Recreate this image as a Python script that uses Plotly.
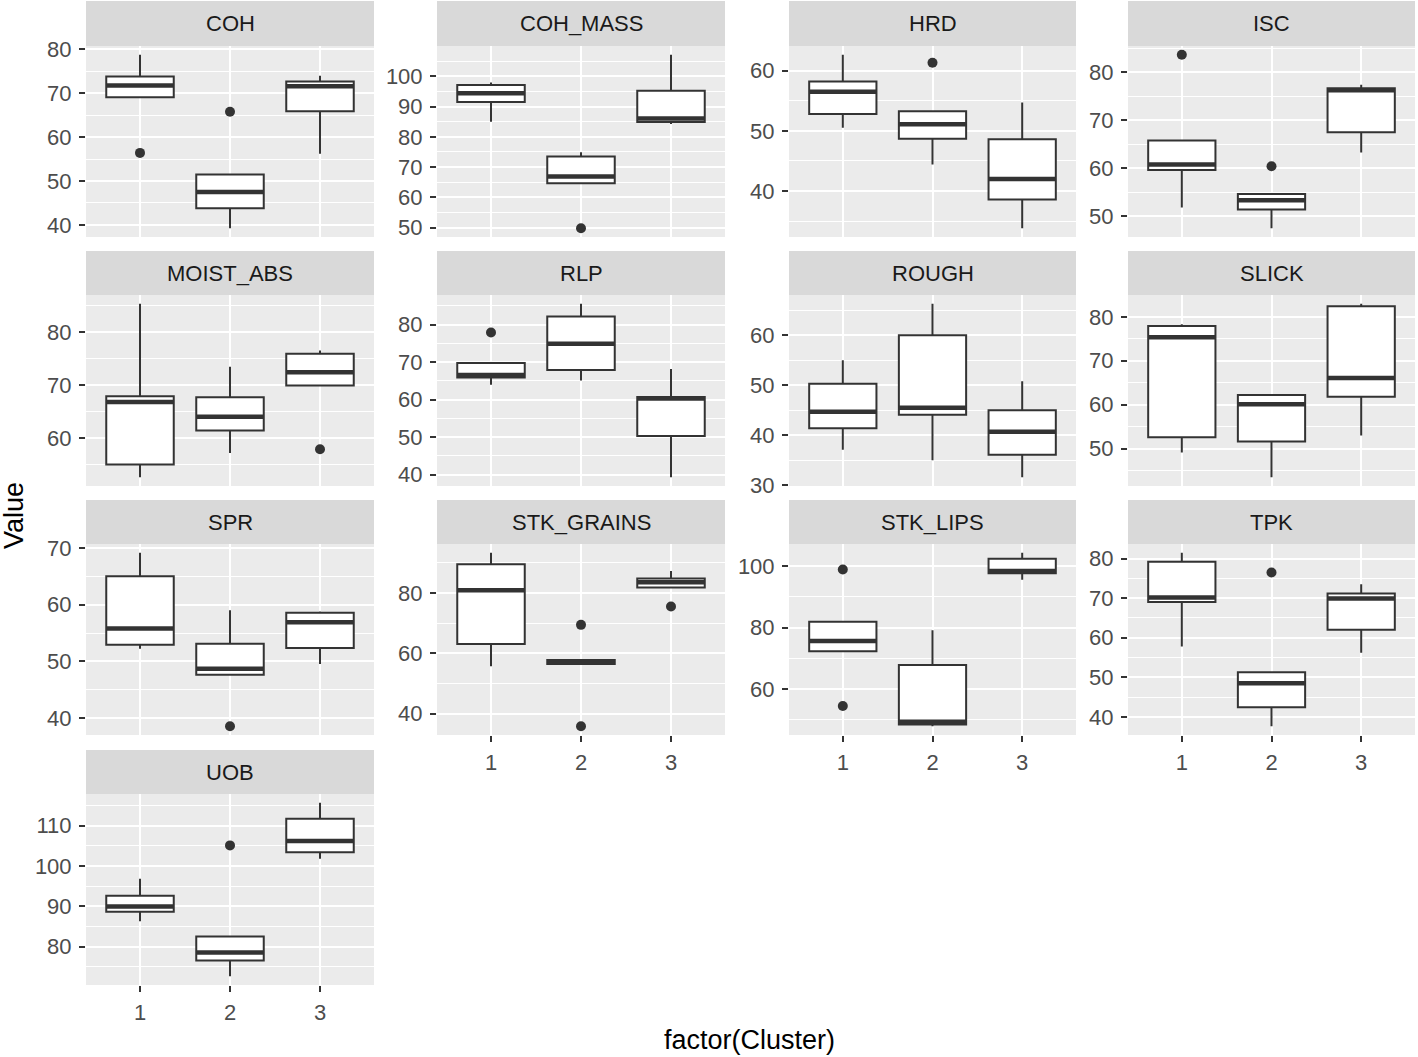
import plotly.graph_objects as go

# ---------------- data ----------------
variables = ["COH", "COH_MASS", "HRD", "ISC",
             "MOIST_ABS", "RLP", "ROUGH", "SLICK",
             "SPR", "STK_GRAINS", "STK_LIPS", "TPK",
             "UOB"]
clusters = [1, 2, 3]
cluster_labels = ["1", "2", "3"]

lower_whisker = {
    "COH": [69.1, 39.2, 56.2], "COH_MASS": [85.0, 64.7, 84.2], "HRD": [50.5, 44.4, 33.8],
    "ISC": [51.8, 47.45, 63.3], "MOIST_ABS": [52.6, 57.2, 69.9], "RLP": [64.0, 65.1, 39.3],
    "ROUGH": [37.1, 35.0, 31.6], "SLICK": [49.1, 43.45, 53.0], "SPR": [52.2, 47.6, 49.5],
    "STK_GRAINS": [55.7, 56.4, 81.8], "STK_LIPS": [72.3, 47.9, 95.6], "TPK": [57.8, 37.6, 56.2],
    "UOB": [86.3, 72.6, 101.8]}
q1 = {
    "COH": [69.1, 43.8, 65.9], "COH_MASS": [91.5, 64.7, 84.9], "HRD": [52.8, 48.7, 38.6],
    "ISC": [59.6, 51.4, 67.5], "MOIST_ABS": [55.0, 61.4, 69.9], "RLP": [65.9, 67.9, 50.3],
    "ROUGH": [41.4, 44.1, 36.1], "SLICK": [52.6, 51.6, 61.8], "SPR": [52.9, 47.6, 52.35],
    "STK_GRAINS": [63.1, 56.4, 81.8], "STK_LIPS": [72.3, 48.5, 97.7], "TPK": [69.05, 42.4, 62.0],
    "UOB": [88.6, 76.5, 103.4]}
median = {
    "COH": [71.8, 47.5, 71.6], "COH_MASS": [94.4, 66.9, 86.0], "HRD": [56.5, 51.1, 42.0],
    "ISC": [60.75, 53.3, 76.3], "MOIST_ABS": [66.8, 64.0, 72.4], "RLP": [66.6, 74.9, 60.3],
    "ROUGH": [44.7, 45.5, 40.7], "SLICK": [75.35, 60.1, 66.1], "SPR": [55.8, 48.7, 56.9],
    "STK_GRAINS": [80.9, 57.1, 83.5], "STK_LIPS": [75.7, 49.4, 98.4], "TPK": [70.15, 48.5, 69.9],
    "UOB": [89.9, 78.5, 106.2]}
q3 = {
    "COH": [73.8, 51.5, 72.7], "COH_MASS": [97.1, 73.5, 95.2], "HRD": [58.2, 53.25, 48.6],
    "ISC": [65.8, 54.6, 76.7], "MOIST_ABS": [67.85, 67.7, 75.85], "RLP": [69.8, 82.2, 60.7],
    "ROUGH": [50.3, 60.0, 45.0], "SLICK": [77.9, 62.2, 82.4], "SPR": [65.05, 53.1, 58.6],
    "STK_GRAINS": [89.5, 57.8, 84.75], "STK_LIPS": [81.9, 67.85, 102.4], "TPK": [79.2, 51.3, 71.2],
    "UOB": [92.6, 82.5, 111.7]}
upper_whisker = {
    "COH": [78.8, 51.5, 74.0], "COH_MASS": [97.9, 74.9, 107.1], "HRD": [62.65, 53.25, 54.7],
    "ISC": [65.8, 54.6, 77.4], "MOIST_ABS": [85.3, 73.4, 76.5], "RLP": [69.8, 85.6, 68.2],
    "ROUGH": [55.0, 66.3, 50.8], "SLICK": [78.3, 62.2, 83.0], "SPR": [69.2, 59.0, 58.8],
    "STK_GRAINS": [93.3, 57.8, 87.2], "STK_LIPS": [81.9, 79.2, 104.4], "TPK": [81.5, 51.3, 73.5],
    "UOB": [96.8, 82.5, 115.7]}
outlier_cluster = {
    "COH": [1, 2], "COH_MASS": [2], "HRD": [2], "ISC": [1, 2], "MOIST_ABS": [3], "RLP": [1],
    "ROUGH": [], "SLICK": [], "SPR": [2], "STK_GRAINS": [2, 2, 3], "STK_LIPS": [1, 1],
    "TPK": [2], "UOB": [2]}
outlier_value = {
    "COH": [56.4, 65.8], "COH_MASS": [49.8], "HRD": [61.3], "ISC": [83.7, 60.4],
    "MOIST_ABS": [57.9], "RLP": [77.9], "ROUGH": [], "SLICK": [], "SPR": [38.5],
    "STK_GRAINS": [69.4, 35.8, 75.5], "STK_LIPS": [98.9, 54.5], "TPK": [76.5], "UOB": [105.1]}
y_tick_step = {
    "COH": 10, "COH_MASS": 10, "HRD": 10, "ISC": 10, "MOIST_ABS": 10, "RLP": 10,
    "ROUGH": 10, "SLICK": 10, "SPR": 10, "STK_GRAINS": 20, "STK_LIPS": 20, "TPK": 10, "UOB": 10}

# ---------------- layout geometry (pixels) ----------------
W, H = 1418, 1057
col_px = [(86, 374), (437, 725), (789, 1076), (1128, 1415)]
row_px = [(1, 46, 237), (251, 295, 486), (500, 544, 735), (750, 794, 985)]  # strip top, panel top, panel bottom

FONT = "Liberation Sans, Arial, Helvetica, sans-serif"
INK = "#333333"
BOX_W = 0.75

fig = go.Figure()
layout = dict(
    width=W, height=H, margin=dict(l=0, r=0, t=0, b=0, autoexpand=False),
    paper_bgcolor="white", plot_bgcolor="#EBEBEB", showlegend=False,
    font=dict(family=FONT, size=22, color="#4D4D4D"),
    shapes=[], annotations=[],
)

n = len(variables)
for i, var in enumerate(variables):
    r, c = divmod(i, 4)
    k = i + 1
    xa = "x" if k == 1 else f"x{k}"
    ya = "y" if k == 1 else f"y{k}"
    xl, xr = col_px[c]
    st, pt, pb = row_px[r]

    # box
    fig.add_trace(go.Box(
        x=clusters, q1=q1[var], median=median[var], q3=q3[var],
        lowerfence=lower_whisker[var], upperfence=upper_whisker[var],
        width=BOX_W, whiskerwidth=0, fillcolor="white",
        line=dict(color=INK, width=2), boxpoints=False,
        xaxis=xa, yaxis=ya, hoverinfo="y"))
    # thicker median line (ggplot fatten)
    mx, my = [], []
    for cl, m in zip(clusters, median[var]):
        mx += [cl - BOX_W / 2, cl + BOX_W / 2, None]
        my += [m, m, None]
    fig.add_trace(go.Scatter(x=mx, y=my, mode="lines",
                             line=dict(color=INK, width=4.5),
                             xaxis=xa, yaxis=ya, hoverinfo="skip"))
    # outliers
    if outlier_value[var]:
        fig.add_trace(go.Scatter(x=outlier_cluster[var], y=outlier_value[var], mode="markers",
                                 marker=dict(color=INK, size=10, line=dict(width=0)),
                                 xaxis=xa, yaxis=ya))

    # axis ranges like ggplot (5% expansion)
    allv = lower_whisker[var] + upper_whisker[var] + outlier_value[var]
    lo, hi = min(allv), max(allv)
    pad = 0.05 * (hi - lo)
    step = y_tick_step[var]

    bottom_of_column = (i + 4 >= n)
    layout[xa.replace("x", "xaxis")] = dict(
        domain=[xl / W, xr / W], anchor=ya, range=[0.4, 3.6], automargin=False,
        tickmode="array", tickvals=clusters, ticktext=cluster_labels,
        showgrid=True, gridcolor="white", gridwidth=2, zeroline=False,
        showticklabels=bottom_of_column,
        ticks="outside" if bottom_of_column else "", ticklen=6, tickwidth=2, tickcolor=INK,
        ticklabelstandoff=2,
        tickfont=dict(size=22, color="#4D4D4D", family=FONT), showline=False,
    )
    layout[ya.replace("y", "yaxis")] = dict(
        domain=[1 - pb / H, 1 - pt / H], anchor=xa, range=[lo - pad, hi + pad], automargin=False,
        tick0=0, dtick=step, showgrid=True, gridcolor="white", gridwidth=2, zeroline=False,
        ticks="outside", ticklen=6, tickwidth=2, tickcolor=INK, ticklabelstandoff=3,
        tickfont=dict(size=22, color="#4D4D4D", family=FONT), showline=False,
        minor=dict(tick0=0, dtick=step / 2, showgrid=True, gridcolor="white", gridwidth=1, ticks=""),
    )
    # strip
    layout["shapes"].append(dict(type="rect", xref="paper", yref="paper",
                                 x0=xl / W, x1=xr / W, y0=1 - pt / H, y1=1 - st / H,
                                 fillcolor="#D9D9D9", line=dict(width=0), layer="below"))
    layout["annotations"].append(dict(text=var, xref="paper", yref="paper",
                                      x=(xl + xr) / 2 / W, y=1 - (st + pt) / 2 / H,
                                      xanchor="center", yanchor="middle", showarrow=False,
                                      font=dict(size=22, color="#1A1A1A", family=FONT)))

layout["annotations"].append(dict(text="Value", xref="paper", yref="paper",
                                  x=14 / W, y=1 - 516 / H, textangle=-90,
                                  xanchor="center", yanchor="middle", showarrow=False,
                                  font=dict(size=27, color="black", family=FONT)))
layout["annotations"].append(dict(text="factor(Cluster)", xref="paper", yref="paper",
                                  x=750 / W, y=1 - 1040 / H,
                                  xanchor="center", yanchor="middle", showarrow=False,
                                  font=dict(size=27, color="black", family=FONT)))

fig.update_layout(**layout)
fig.write_html("out.html", config={"displayModeBar": False},
               post_script="document.body.style.margin='0px';document.body.style.overflow='hidden';")
